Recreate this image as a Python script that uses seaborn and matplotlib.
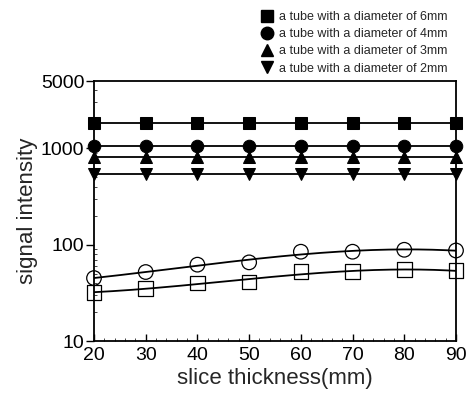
import numpy as np
import pandas as pd
import matplotlib
matplotlib.use("Agg")
import matplotlib.pyplot as plt
from matplotlib.lines import Line2D
from matplotlib.ticker import LogLocator, NullFormatter, FixedLocator, FixedFormatter, MultipleLocator
import seaborn as sns

# ---- data ----
slice_thickness = [20, 30, 40, 50, 60, 70, 80, 90]
tube_6mm = [1850, 1850, 1850, 1850, 1850, 1850, 1850, 1850]
tube_4mm = [1050, 1050, 1050, 1050, 1050, 1050, 1050, 1050]
tube_3mm = [810, 810, 810, 810, 810, 810, 810, 810]
tube_2mm = [545, 545, 545, 545, 545, 545, 545, 545]
open_circle = [45, 52, 62, 65.5, 84.5, 84.5, 88.5, 87]
open_square = [32, 35, 40, 41, 52.4, 52.4, 55, 53.6]
legend_labels = ["a tube with a diameter of 6mm", "a tube with a diameter of 4mm",
                 "a tube with a diameter of 3mm", "a tube with a diameter of 2mm"]
y_ticks = [10, 100, 1000, 5000]
y_tick_labels = ["10", "100", "1000", "5000"]

sns.set_style("white")
plt.rcParams['font.family'] = ['Liberation Sans', 'DejaVu Sans']

fig = plt.figure(figsize=(4.73, 4.0), dpi=100)
ax = fig.add_axes([94/473, 1-341/400, (456-94)/473, (341-81)/400])

filled = [(tube_6mm, 's'), (tube_4mm, 'o'), (tube_3mm, '^'), (tube_2mm, 'v')]
for vals, m in filled:
    df = pd.DataFrame({"x": slice_thickness, "y": vals})
    sns.lineplot(data=df, x="x", y="y", ax=ax, color="black", lw=1.3,
                 marker=m, markersize=9, markeredgecolor="black",
                 markerfacecolor="black", clip_on=False, zorder=3)

# fitted curves (cubic fit in log space) for open symbols
xf = np.linspace(20, 90, 200)
for vals, m in [(open_circle, 'o'), (open_square, 's')]:
    coef = np.polyfit(slice_thickness, np.log10(vals), 3)
    dfit = pd.DataFrame({"x": xf, "y": 10 ** np.polyval(coef, xf)})
    sns.lineplot(data=dfit, x="x", y="y", ax=ax, color="black", lw=1.3, zorder=2)
    dpt = pd.DataFrame({"x": slice_thickness, "y": vals})
    sns.scatterplot(data=dpt, x="x", y="y", ax=ax, marker=m, s=110,
                    facecolor="none", edgecolor="black", linewidth=0.9,
                    clip_on=False, zorder=3)

ax.set_yscale("log")
ax.set_xlim(20, 90)
ax.set_ylim(10, 5000)
ax.xaxis.set_major_locator(MultipleLocator(10))
ax.xaxis.set_minor_locator(MultipleLocator(2))
ax.yaxis.set_major_locator(FixedLocator(y_ticks))
ax.yaxis.set_major_formatter(FixedFormatter(y_tick_labels))
ax.yaxis.set_minor_locator(LogLocator(base=10, subs=np.arange(2, 10)))
ax.yaxis.set_minor_formatter(NullFormatter())

ax.tick_params(axis='x', which='major', direction='in', length=5, width=1,
               labelsize=14, pad=4, colors='black')
ax.tick_params(axis='x', which='minor', direction='in', length=2, width=0.6)
ax.tick_params(axis='y', which='major', direction='out', length=6, width=1,
               labelsize=14, pad=1, colors='black', left=True)
ax.tick_params(axis='y', which='minor', direction='in', length=2, width=0.6, left=True)
ax.tick_params(axis='x', bottom=True, which='both')

for sp in ax.spines.values():
    sp.set_color("black")
    sp.set_linewidth(1.3)

ax.set_xlabel("slice thickness(mm)", fontsize=16, labelpad=3)
ax.set_ylabel("signal intensity", fontsize=16, labelpad=2)

handles = [Line2D([], [], color='black', marker=m, linestyle='none', markersize=9)
           for _, m in filled]
fig.legend(handles, legend_labels, loc='upper left', bbox_to_anchor=(256/473, 1 - 6/400),
           frameon=False, fontsize=9, handlelength=1.0, handletextpad=0.45,
           labelspacing=0.42, borderaxespad=0)

fig.savefig("out.png", dpi=100)
